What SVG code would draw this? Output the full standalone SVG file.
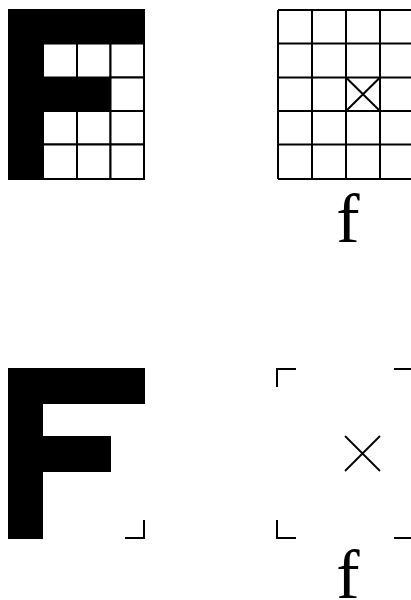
<svg xmlns="http://www.w3.org/2000/svg" width="411" height="600" viewBox="0 0 411 600">
<style>
.cell{fill:#fff;stroke:#000;stroke-width:2}
.blk{fill:#000;stroke:#000;stroke-width:2}
.ln{fill:none;stroke:#000;stroke-width:2}
.thin{fill:none;stroke:#000;stroke-width:1.8}
.lbl{font-family:"Liberation Serif","Times New Roman",serif;font-size:70px;fill:#000;text-anchor:middle}
</style>
<rect width="411" height="600" fill="#fff"/>
<g id="bitmap-F">
<rect class="blk" x="9" y="10" width="135" height="169"/>
<rect class="cell" x="43" y="43.5" width="34" height="34"/>
<rect class="cell" x="77" y="43.5" width="33.5" height="34"/>
<rect class="cell" x="110.5" y="43.5" width="33.5" height="34"/>
<rect class="cell" x="110.5" y="77.5" width="33.5" height="33.5"/>
<rect class="cell" x="43" y="111" width="34" height="33.5"/>
<rect class="cell" x="77" y="111" width="33.5" height="33.5"/>
<rect class="cell" x="110.5" y="111" width="33.5" height="33.5"/>
<rect class="cell" x="43" y="144.5" width="34" height="34.5"/>
<rect class="cell" x="77" y="144.5" width="33.5" height="34.5"/>
<rect class="cell" x="110.5" y="144.5" width="33.5" height="34.5"/>
</g>
<g id="grid-f">
<path class="ln" d="M278,10 H413 M278,43.5 H413 M278,77.5 H413 M278,111 H413 M278,144.5 H413 M278,179 H413 M278,10 V179 M312,10 V179 M346,10 V179 M380,10 V179"/>
<path class="ln" d="M346,77.5 L380,111 M380,77.5 L346,111"/>
<text class="lbl" x="348" y="242">f</text>
</g>
<g id="outline-F">
<polygon fill="#000" points="8,368 145,368 145,404 43,404 43,436 111,436 111,472 43,472 43,539 8,539"/>
<path class="ln" d="M125,538 H144 V520"/>
</g>
<g id="point-f">
<path class="ln" d="M277,387 V369 H296 M394,369 H411 M277,520 V538 H296 M394,538 H411"/>
<path class="thin" d="M345,436 L380,471 M380,436 L345,471"/>
<text class="lbl" x="348" y="598">f</text>
</g>
</svg>
